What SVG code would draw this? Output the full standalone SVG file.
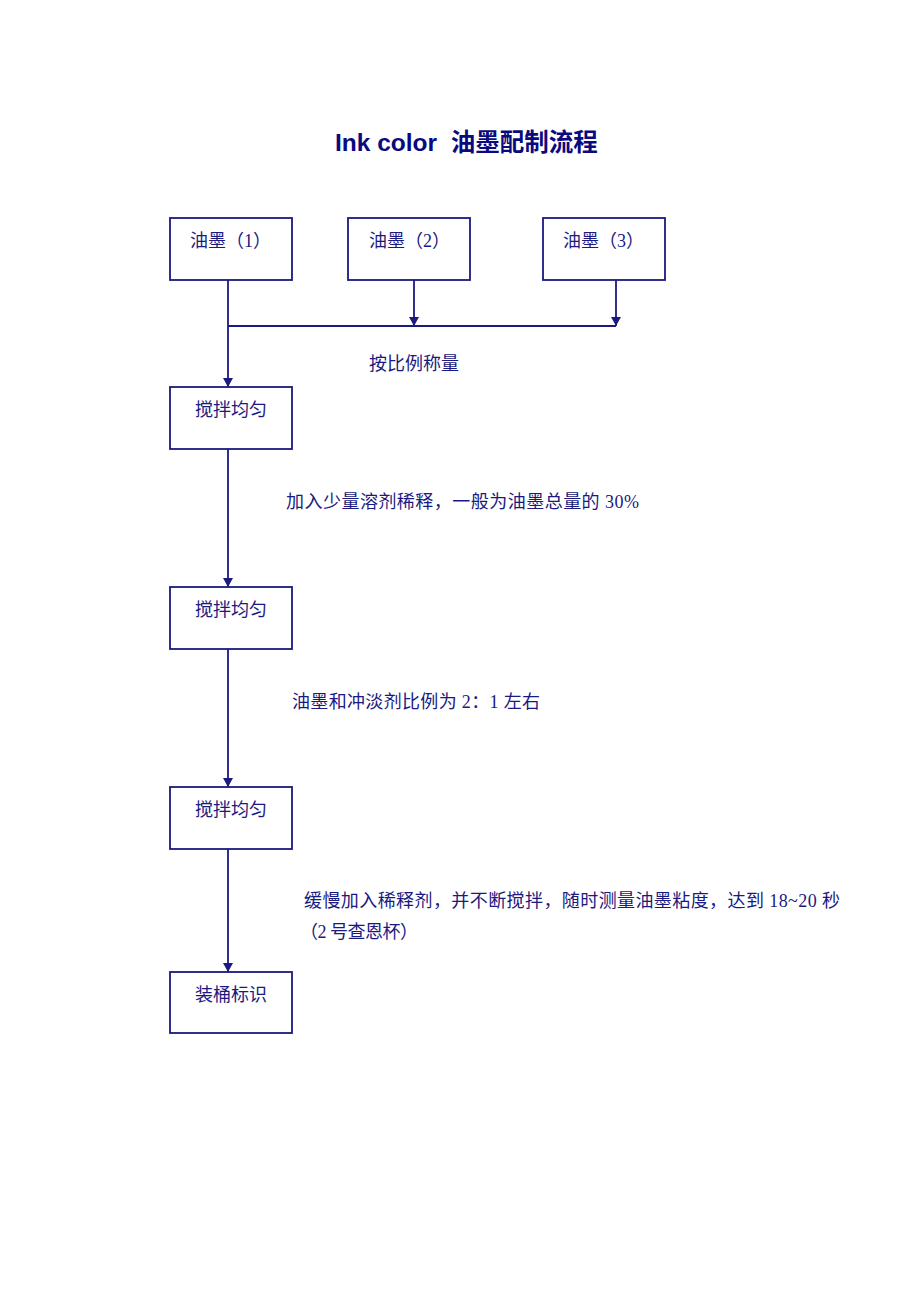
<svg xmlns="http://www.w3.org/2000/svg" width="920" height="1302" viewBox="0 0 920 1302">
<style>
.box{fill:#fff;stroke:#1a1a80;stroke-width:1.8}
.ln{stroke:#1a1a80;stroke-width:1.8;fill:none}
.t{font-family:"Liberation Serif","Noto Sans CJK SC",serif;font-size:18px;fill:#1a1a80}
.title{font-family:"Liberation Sans","Noto Sans CJK SC",sans-serif;font-size:24.5px;font-weight:bold;fill:#0a0a80}
</style>
<defs>
<marker id="ah" markerWidth="10" markerHeight="10" refX="9" refY="5" orient="auto" markerUnits="userSpaceOnUse" viewBox="0 0 10 10">
<path d="M0,0 L9,5 L0,10 Z" fill="#1a1a80"/>
</marker>
</defs>
<rect width="920" height="1302" fill="#fff"/>
<text class="title" x="335" y="151" xml:space="preserve">Ink color  油墨配制流程</text>
<g id="connectors">
<line class="ln" x1="228" y1="280" x2="228" y2="387" marker-end="url(#ah)"/>
<line class="ln" x1="228" y1="326" x2="616" y2="326"/>
<line class="ln" x1="414" y1="280" x2="414" y2="326" marker-end="url(#ah)"/>
<line class="ln" x1="616" y1="280" x2="616" y2="326" marker-end="url(#ah)"/>
<line class="ln" x1="228" y1="449" x2="228" y2="587" marker-end="url(#ah)"/>
<line class="ln" x1="228" y1="649" x2="228" y2="787" marker-end="url(#ah)"/>
<line class="ln" x1="228" y1="849" x2="228" y2="972" marker-end="url(#ah)"/>
<text class="t" x="369" y="370">按比例称量</text>
<text class="t" x="286" y="508" textLength="353">加入少量溶剂稀释，一般为油墨总量的 30%</text>
<text class="t" x="292" y="708" textLength="248">油墨和冲淡剂比例为 2：1 左右</text>
<text class="t" x="304" y="907" textLength="536">缓慢加入稀释剂，并不断搅拌，随时测量油墨粘度，达到 18~20 秒</text>
<text class="t" x="300" y="938" textLength="118">（2 号查恩杯）</text>
</g>
<g id="ink1"><rect class="box" x="170" y="218" width="122" height="62"/><text class="t" x="190" y="247">油墨（1）</text></g>
<g id="ink2"><rect class="box" x="348" y="218" width="122" height="62"/><text class="t" x="369" y="247">油墨（2）</text></g>
<g id="ink3"><rect class="box" x="543" y="218" width="122" height="62"/><text class="t" x="563" y="247">油墨（3）</text></g>
<g id="mix1"><rect class="box" x="170" y="387" width="122" height="62"/><text class="t" x="195" y="416">搅拌均匀</text></g>
<g id="mix2"><rect class="box" x="170" y="587" width="122" height="62"/><text class="t" x="195" y="616">搅拌均匀</text></g>
<g id="mix3"><rect class="box" x="170" y="787" width="122" height="62"/><text class="t" x="195" y="816">搅拌均匀</text></g>
<g id="pack"><rect class="box" x="170" y="972" width="122" height="61"/><text class="t" x="195" y="1001">装桶标识</text></g>
</svg>
